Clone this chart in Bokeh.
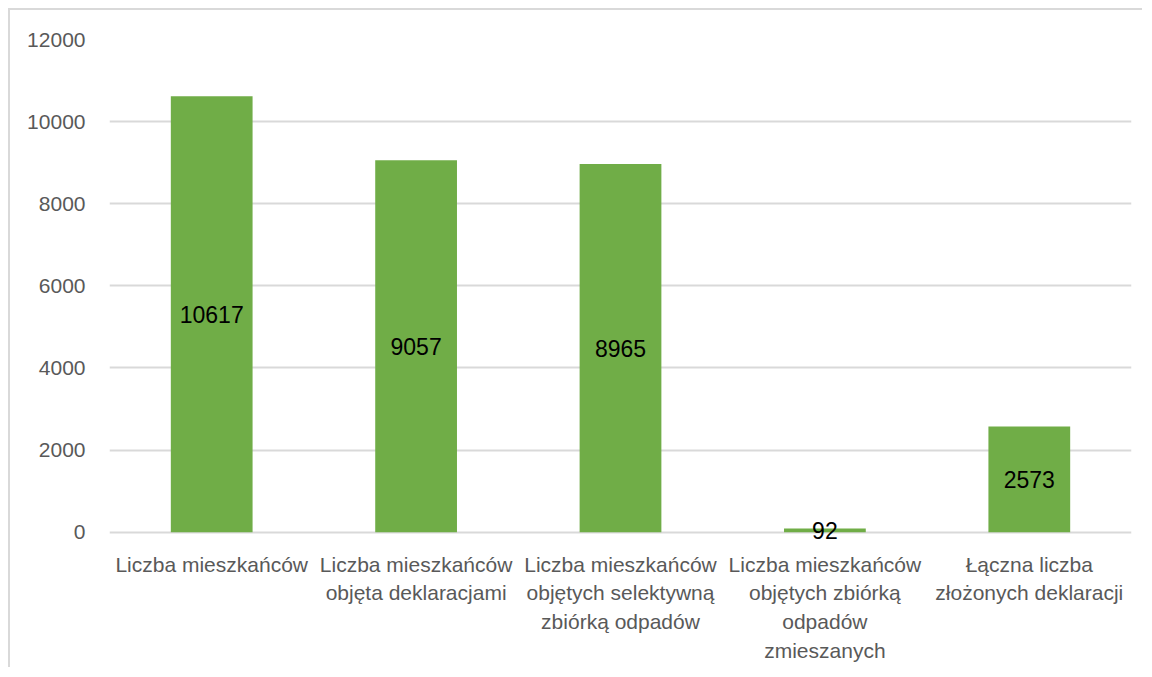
from bokeh.plotting import figure
from bokeh.models import Range1d, FactorRange, ColumnDataSource, FixedTicker, Label
from bokeh.embed import file_html
from bokeh.resources import INLINE

categories = [
    "Liczba mieszkańców",
    "Liczba mieszkańców\nobjęta deklaracjami",
    "Liczba mieszkańców\nobjętych selektywną\nzbiórką odpadów",
    "Liczba mieszkańców\nobjętych zbiórką\nodpadów\nzmieszanych",
    "Łączna liczba\nzłożonych deklaracji",
]
values = [10617, 9057, 8965, 92, 2573]
y_ticks = [0, 2000, 4000, 6000, 8000, 10000, 12000]

FONT = "Liberation Sans"

src = ColumnDataSource(dict(cat=categories, val=values))

# a little room below zero so the small "92" label is not clipped by the frame
p = figure(
    x_range=FactorRange(*categories, range_padding=0),
    y_range=Range1d(-300, 12000),
    width=1134, height=659,
    output_backend="svg", toolbar_location=None,
    min_border_left=99, min_border_right=13,
    min_border_top=29, min_border_bottom=125,
)
p.styles = {"border-top": "2px solid #d9d9d9", "border-left": "2px solid #d9d9d9",
            "margin-top": "8px", "margin-left": "8px"}
p.outline_line_color = None

p.vbar(x="cat", top="val", width=0.4, source=src, color="#70AD47", line_color=None)

# data labels centred in each bar
for i, (c, v) in enumerate(zip(categories, values)):
    p.add_layout(Label(x=i + 0.5, y=v / 2, text=str(v), text_align="center",
                       text_baseline="middle", text_font=FONT,
                       text_font_size="23px", text_color="#000000"))

p.yaxis.ticker = FixedTicker(ticks=y_ticks)
p.yaxis.axis_line_color = None
p.yaxis.major_tick_line_color = None
p.yaxis.minor_tick_line_color = None
p.yaxis.major_tick_out = 0
p.yaxis.major_label_standoff = 24
p.yaxis.major_label_text_font = FONT
p.yaxis.major_label_text_font_size = "21px"
p.yaxis.major_label_text_color = "#595959"

p.xaxis.axis_line_color = None
p.xaxis.major_tick_line_color = None
p.xaxis.minor_tick_line_color = None
p.xaxis.major_tick_out = 0
p.xaxis.major_label_standoff = 8
p.xaxis.major_label_text_font = FONT
p.xaxis.major_label_text_font_size = "21px"
p.xaxis.major_label_text_color = "#595959"
p.xaxis.major_label_text_line_height = 1.25

p.xgrid.grid_line_color = None
p.ygrid.grid_line_color = "#D9D9D9"
p.ygrid.grid_line_width = 2
p.ygrid.ticker = FixedTicker(ticks=y_ticks)

open("out.html", "w").write(file_html(p, INLINE))
